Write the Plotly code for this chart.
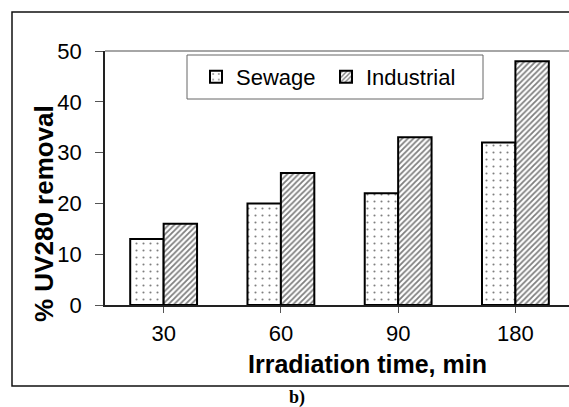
import plotly.graph_objects as go

categories = ["30", "60", "90", "180"]
sewage = [13, 20, 22, 32]
industrial = [16, 26, 33, 48]
y_ticks = [0, 10, 20, 30, 40, 50]

W, H = 569, 407
L, R, T, B = 105, 0, 51, 102
pw = W - L - R
ph = H - T - B

def px_x(x):
    return (x - L) / pw

def px_y(y):
    return (H - B - y) / ph

fig = go.Figure()
fig.add_trace(go.Bar(
    name="Sewage", x=categories, y=sewage,
    marker=dict(color="white", line=dict(color="black", width=2),
                pattern=dict(shape=".", size=7, solidity=0.07, fgcolor="black", bgcolor="white")),
))
fig.add_trace(go.Bar(
    name="Industrial", x=categories, y=industrial,
    marker=dict(color="white", line=dict(color="black", width=2),
                pattern=dict(shape="/", size=4, solidity=0.45, fgcolor="black", bgcolor="white")),
))

font_family = "Arial, Liberation Sans, sans-serif"

fig.update_layout(
    width=W, height=H,
    margin=dict(l=L, r=R, t=T, b=B),
    paper_bgcolor="white", plot_bgcolor="white",
    barmode="group", bargap=0.43, bargroupgap=0,
    font=dict(family=font_family, color="black"),
    showlegend=True,
    legend=dict(
        orientation="h", x=px_x(196), y=px_y(77), xanchor="left", yanchor="middle",
        font=dict(size=22, family=font_family, color="black"),
        bgcolor="rgba(0,0,0,0)", borderwidth=0, entrywidth=85,
    ),
    xaxis=dict(
        type="category", range=[-0.5, 3.457],
        showline=True, linecolor="#222", linewidth=1.5,
        ticks="outside", ticklen=6, tickcolor="#555", tickwidth=1,
        tickfont=dict(size=22, family=font_family, color="black"),
        ticklabelstandoff=2,
        showgrid=False, zeroline=False,
    ),
    yaxis=dict(
        range=[0, 50], tickvals=y_ticks,
        showline=True, linecolor="#222", linewidth=1.5,
        ticks="outside", ticklen=8, tickcolor="#555", tickwidth=1,
        tickfont=dict(size=22, family=font_family, color="black"),
        ticklabelstandoff=9,
        showgrid=False, zeroline=False,
    ),
    shapes=[
        # top plot border (grey)
        dict(type="line", xref="paper", yref="paper", x0=0, x1=1.1, y0=1, y1=1,
             line=dict(color="#888", width=1.5)),
        # legend box
        dict(type="rect", xref="paper", yref="paper",
             x0=px_x(187), x1=px_x(483), y0=px_y(99), y1=px_y(55),
             line=dict(color="#666", width=1)),
        # outer frame
        dict(type="rect", xref="paper", yref="paper",
             x0=px_x(12), x1=px_x(620), y0=px_y(386), y1=px_y(12),
             line=dict(color="#111", width=1.5)),
    ],
    annotations=[
        dict(text="<b>Irradiation time, min</b>", xref="paper", yref="paper",
             x=px_x(367), y=px_y(364), showarrow=False, xanchor="center", yanchor="middle",
             font=dict(size=25, family=font_family, color="black")),
        dict(text="<b>% UV280 removal</b>", xref="paper", yref="paper",
             x=px_x(44), y=px_y(214), showarrow=False, xanchor="center", yanchor="middle",
             textangle=-90, font=dict(size=26, family=font_family, color="black")),
        dict(text="<b>b)</b>", xref="paper", yref="paper", x=px_x(297), y=px_y(397),
             showarrow=False, xanchor="center", yanchor="middle",
             font=dict(size=18, family="Liberation Serif, Times New Roman, serif", color="black")),
    ],
)

fig.write_html("out.html")
